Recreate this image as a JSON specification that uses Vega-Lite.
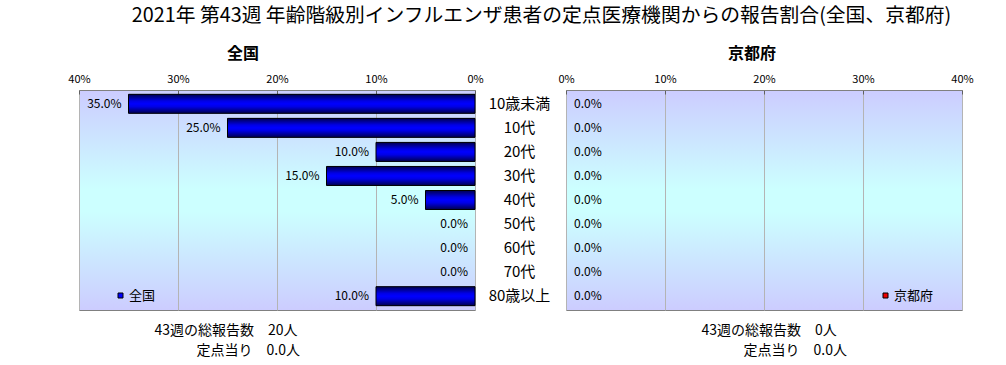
{
  "$schema": "https://vega.github.io/schema/vega-lite/v6.json",
  "autosize": {"type": "pad"},
  "padding": {"left": 67, "top": 5, "right": 10, "bottom": 4},
  "background": "white",
  "title": {
    "text": "2021年 第43週 年齢階級別インフルエンザ患者の定点医療機関からの報告割合(全国、京都府)",
    "fontSize": 19.8,
    "fontWeight": "normal",
    "color": "black",
    "anchor": "middle",
    "dx": 21,
    "offset": 19.5
  },
  "datasets": {
    "all": [
      {"age": "10歳未満", "region": "全国", "value": 0.35},
      {"age": "10代", "region": "全国", "value": 0.25},
      {"age": "20代", "region": "全国", "value": 0.10},
      {"age": "30代", "region": "全国", "value": 0.15},
      {"age": "40代", "region": "全国", "value": 0.05},
      {"age": "50代", "region": "全国", "value": 0.0},
      {"age": "60代", "region": "全国", "value": 0.0},
      {"age": "70代", "region": "全国", "value": 0.0},
      {"age": "80歳以上", "region": "全国", "value": 0.10}
    ],
    "kyoto": [
      {"age": "10歳未満", "region": "京都府", "value": 0.0},
      {"age": "10代", "region": "京都府", "value": 0.0},
      {"age": "20代", "region": "京都府", "value": 0.0},
      {"age": "30代", "region": "京都府", "value": 0.0},
      {"age": "40代", "region": "京都府", "value": 0.0},
      {"age": "50代", "region": "京都府", "value": 0.0},
      {"age": "60代", "region": "京都府", "value": 0.0},
      {"age": "70代", "region": "京都府", "value": 0.0},
      {"age": "80歳以上", "region": "京都府", "value": 0.0}
    ]
  },
  "bounds": "flush",
  "spacing": 91,
  "resolve": {"scale": {"x": "independent", "color": "independent"}, "legend": {"color": "independent"}},
  "hconcat": [
    {
      "width": 396,
      "height": 220,
      "title": {"text": "全国", "dx": -34, "fontSize": 16, "fontWeight": "bold", "color": "black", "offset": 11.5},
      "data": {"name": "all"},
      "encoding": {
        "y": {
          "field": "age", "type": "nominal",
          "sort": ["10歳未満", "10代", "20代", "30代", "40代", "50代", "60代", "70代", "80歳以上"],
          "scale": {"paddingInner": 0.21, "paddingOuter": 0.18},
          "axis": null
        }
      },
      "layer": [
        {
          "mark": {"type": "bar", "strokeWidth": 0},
          "encoding": {
            "x": {
              "field": "value", "type": "quantitative",
              "scale": {"domain": [0, 0.4], "reverse": true, "nice": false},
              "axis": {
                "orient": "top", "format": ".0%", "values": [0, 0.1, 0.2, 0.3, 0.4],
                "grid": true, "gridColor": "#B4B4B4", "domain": false,
                "ticks": true, "tickSize": -4, "tickColor": "#606060",
                "labelPadding": 10, "labelFontSize": 11, "labelColor": "black",
                "labelFlush": false, "title": null
              }
            },
            "color": {
              "field": "region", "type": "nominal",
              "scale": {"range": ["#0000FF"]},
              "legend": {
                "orient": "none", "legendX": 35, "legendY": 199, "title": null,
                "symbolType": "square", "symbolSize": 25, "symbolStrokeColor": "black",
                "symbolStrokeWidth": 1, "labelFontSize": 13, "labelColor": "black",
                "labelOffset": 2, "padding": 0
              }
            }
          }
        },
        {
          "transform": [{"filter": "datum.value > 0"}],
          "mark": {
            "type": "bar", "stroke": "black", "strokeWidth": 1,
            "fill": {
              "gradient": "linear", "x1": 0, "y1": 0, "x2": 0, "y2": 1,
              "stops": [
                {"offset": 0, "color": "#000050"},
                {"offset": 0.35, "color": "#0000E6"},
                {"offset": 0.5, "color": "#0000FF"},
                {"offset": 0.65, "color": "#0000E6"},
                {"offset": 1, "color": "#000050"}
              ]
            }
          },
          "encoding": {
            "x": {"field": "value", "type": "quantitative", "axis": null}
          }
        },
        {
          "mark": {"type": "text", "align": "right", "dx": -7, "fontSize": 12, "color": "black"},
          "encoding": {
            "x": {
              "field": "value", "type": "quantitative",
              "axis": {
                "orient": "bottom", "labels": false, "ticks": false, "domain": false, "grid": false,
                "title": ["43週の総報告数　20人", "\u200b　　　定点当り　0.0人"],
                "titleFontSize": 14, "titleFontWeight": "normal", "titleColor": "black",
                "titleAnchor": "start", "titleAlign": "left", "titleX": 75,
                "titleLineHeight": 19.5, "titlePadding": 13.5
              }
            },
            "text": {"field": "value", "type": "quantitative", "format": ".1%"}
          }
        }
      ],
      "resolve": {"axis": {"x": "independent"}}
    },
    {
      "width": 396,
      "height": 220,
      "title": {"text": "京都府", "dx": -12, "fontSize": 16, "fontWeight": "bold", "color": "black", "offset": 11.5},
      "data": {"name": "kyoto"},
      "encoding": {
        "y": {
          "field": "age", "type": "nominal",
          "sort": ["10歳未満", "10代", "20代", "30代", "40代", "50代", "60代", "70代", "80歳以上"],
          "scale": {"paddingInner": 0.21, "paddingOuter": 0.18},
          "axis": {
            "orient": "left", "title": null, "domain": false, "ticks": false,
            "labelAlign": "center", "labelPadding": 47, "labelFontSize": 15, "labelColor": "black"
          }
        }
      },
      "layer": [
        {
          "mark": {"type": "bar", "strokeWidth": 0},
          "encoding": {
            "x": {
              "field": "value", "type": "quantitative",
              "scale": {"domain": [0, 0.4], "nice": false},
              "axis": {
                "orient": "top", "format": ".0%", "values": [0, 0.1, 0.2, 0.3, 0.4],
                "grid": true, "gridColor": "#B4B4B4", "domain": false,
                "ticks": true, "tickSize": -4, "tickColor": "#606060",
                "labelPadding": 10, "labelFontSize": 11, "labelColor": "black",
                "labelFlush": false, "title": null
              }
            },
            "color": {
              "field": "region", "type": "nominal",
              "scale": {"range": ["#EE0000"]},
              "legend": {
                "orient": "none", "legendX": 313, "legendY": 199, "title": null,
                "symbolType": "square", "symbolSize": 25, "symbolStrokeColor": "black",
                "symbolStrokeWidth": 1, "labelFontSize": 13, "labelColor": "black",
                "labelOffset": 2, "padding": 0
              }
            }
          }
        },
        {
          "mark": {"type": "text", "align": "left", "dx": 8, "fontSize": 12, "color": "black"},
          "encoding": {
            "x": {
              "field": "value", "type": "quantitative",
              "axis": {
                "orient": "bottom", "labels": false, "ticks": false, "domain": false, "grid": false,
                "title": ["43週の総報告数　0人", "\u200b　　　定点当り　0.0人"],
                "titleFontSize": 14, "titleFontWeight": "normal", "titleColor": "black",
                "titleAnchor": "start", "titleAlign": "left", "titleX": 135,
                "titleLineHeight": 19.5, "titlePadding": 13.5
              }
            },
            "text": {"field": "value", "type": "quantitative", "format": ".1%"}
          }
        }
      ],
      "resolve": {"axis": {"x": "independent"}}
    }
  ],
  "config": {
    "font": "Noto Sans CJK JP",
    "view": {
      "stroke": "#808080",
      "strokeWidth": 1,
      "fill": {
        "gradient": "linear", "x1": 0, "y1": 0, "x2": 0, "y2": 1,
        "stops": [
          {"offset": 0, "color": "#CCCCFF"},
          {"offset": 0.45, "color": "#CCFFFF"},
          {"offset": 0.55, "color": "#CCFFFF"},
          {"offset": 1, "color": "#CCCCFF"}
        ]
      }
    }
  }
}
